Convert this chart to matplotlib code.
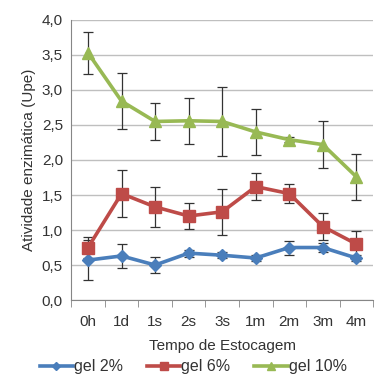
import numpy as np
import matplotlib
matplotlib.use("Agg")
import matplotlib.pyplot as plt
from matplotlib.ticker import FuncFormatter

plt.rcParams['font.family'] = ['Liberation Sans', 'DejaVu Sans']

# data
categories = ['0h', '1d', '1s', '2s', '3s', '1m', '2m', '3m', '4m']

gel2 = [0.57, 0.63, 0.50, 0.67, 0.64, 0.60, 0.75, 0.75, 0.60]
gel2_err = [0.29, 0.17, 0.12, 0.05, 0.04, 0.04, 0.10, 0.06, 0.04]

gel6 = [0.75, 1.52, 1.33, 1.20, 1.26, 1.62, 1.52, 1.05, 0.80]
gel6_err = [0.15, 0.33, 0.28, 0.19, 0.33, 0.19, 0.13, 0.19, 0.19]

gel10 = [3.53, 2.84, 2.55, 2.56, 2.55, 2.40, 2.29, 2.22, 1.76]
gel10_err = [0.30, 0.40, 0.27, 0.33, 0.49, 0.33, 0.04, 0.33, 0.33]

series = [
    ('gel 2%', gel2, gel2_err, '#4A7EBB', 'D', 6.2),
    ('gel 6%', gel6, gel6_err, '#BE4B48', 's', 8.5),
    ('gel 10%', gel10, gel10_err, '#98B954', '^', 9),
]

fig = plt.figure(figsize=(3.75, 3.76), dpi=100)
ax = fig.add_axes([0.19, 0.202, 0.805, 0.745])

x = np.arange(len(categories))
for name, vals, err, col, mk, ms in series:
    ax.errorbar(x, vals, yerr=err, fmt='none', ecolor='#333333',
                elinewidth=0.9, capsize=3.5, capthick=0.9, zorder=2)
    ax.plot(x, vals, color=col, marker=mk, markersize=ms, linewidth=2.6,
            label=name, zorder=3)

ax.set_ylim(0, 4.0)
ax.set_yticks(np.arange(0, 4.01, 0.5))
ax.yaxis.set_major_formatter(FuncFormatter(lambda v, p: f'{v:.1f}'.replace('.', ',')))
ax.set_xlim(-0.5, len(categories) - 0.5)
ax.set_xticks(x)
ax.set_xticklabels(categories)
ax.set_xticks(np.arange(-0.5, len(categories)), minor=True)
ax.tick_params(axis='x', which='major', length=0, pad=11)
ax.tick_params(axis='x', which='minor', length=5, color='#868686')
ax.tick_params(axis='y', length=0, pad=6)
ax.tick_params(labelsize=11, labelcolor='#333333')

ax.grid(axis='y', color='#BFBFBF', linewidth=1)
ax.set_axisbelow(True)
for s in ['top', 'right']:
    ax.spines[s].set_visible(False)
for s in ['left', 'bottom']:
    ax.spines[s].set_color('#868686')

ax.set_xlabel('Tempo de Estocagem', fontsize=11, color='#333333', labelpad=7)
ax.set_ylabel('Atividade enzimática (Upe)', fontsize=11, color='#333333', labelpad=4)

fig.legend(loc='center', bbox_to_anchor=(0.515, 0.025), ncol=3, frameon=False,
           fontsize=11.5, handlelength=2.1, handletextpad=0.05, columnspacing=1.5,
           markerscale=0.6, labelcolor='#333333', borderpad=0)

fig.savefig('out.png', dpi=100)
